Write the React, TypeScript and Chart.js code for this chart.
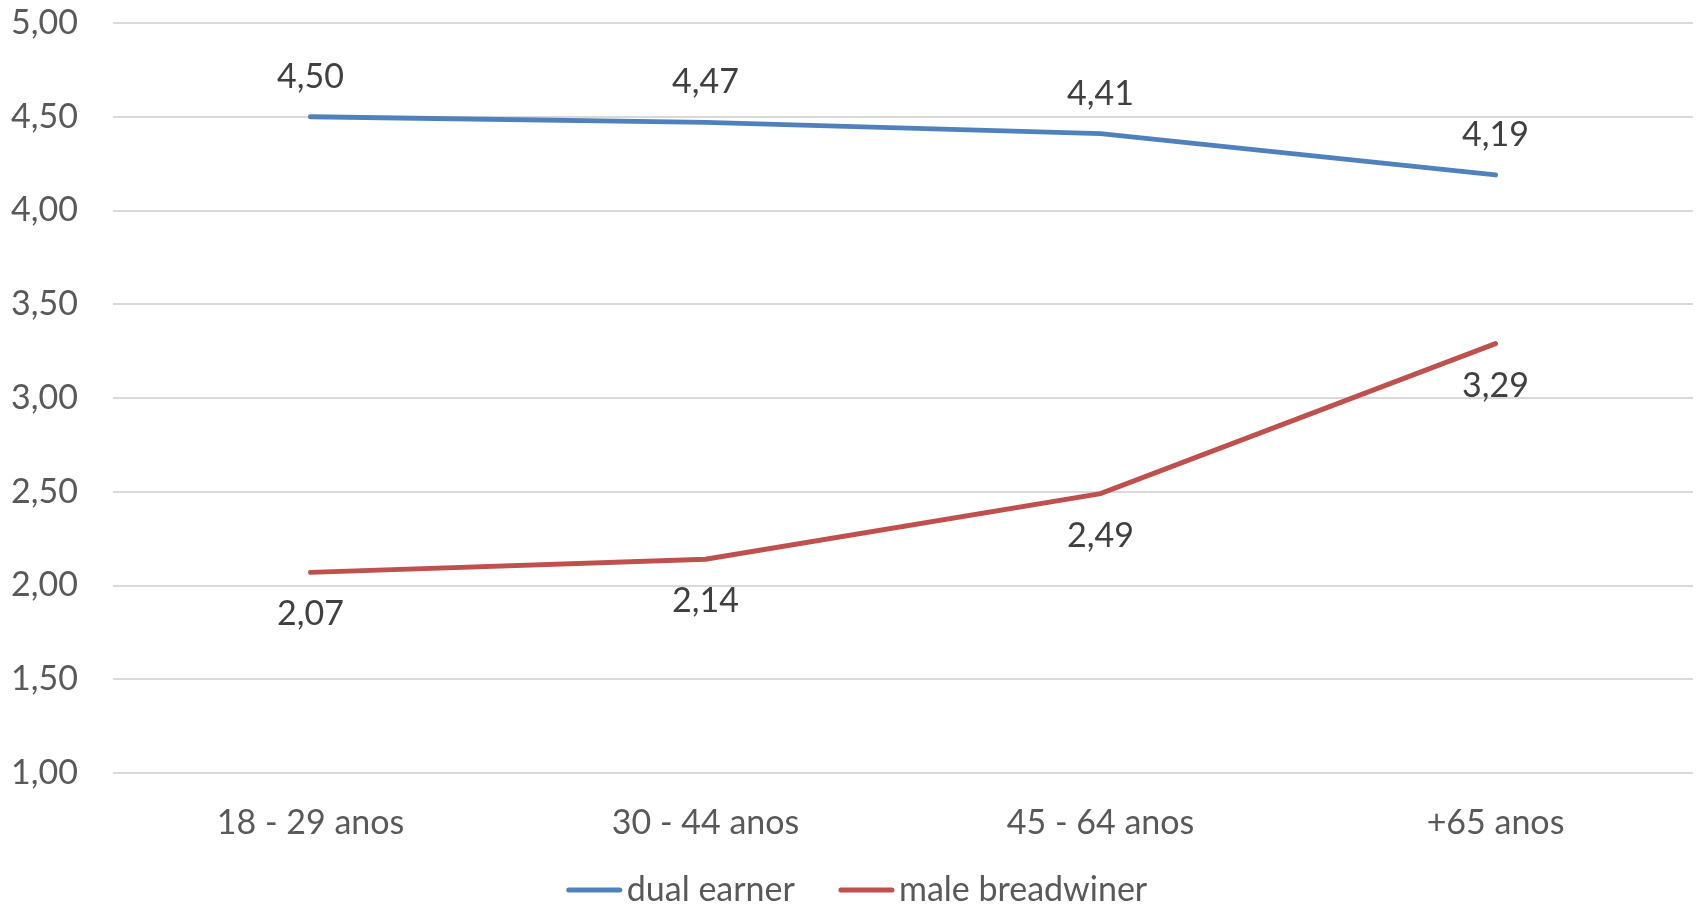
import React, { useEffect, useRef } from "react";
import { Chart, registerables } from "chart.js";

Chart.register(...registerables);

const categories = ["18 - 29 anos", "30 - 44 anos", "45 - 64 anos", "+65 anos"];
const dualEarner = [4.5, 4.47, 4.41, 4.19];
const maleBreadwinner = [2.07, 2.14, 2.49, 3.29];
const seriesNames = ["dual earner", "male breadwiner"];
const seriesColors = ["#4F81BD", "#C0504D"];

const FONT = "Lato, 'Noto Sans', sans-serif";
const FONT_SIZE = 34;

const fmt = (v: number) => v.toFixed(2).replace(".", ",");

// Value labels: first series above its points, second series below.
const valueLabels = {
  id: "valueLabels",
  afterDatasetsDraw(chart: any) {
    const ctx = chart.ctx;
    ctx.save();
    ctx.font = `${FONT_SIZE}px ${FONT}`;
    ctx.fillStyle = "#404040";
    ctx.textAlign = "center";
    ctx.textBaseline = "middle";
    chart.data.datasets.forEach((ds: any, di: number) => {
      const meta = chart.getDatasetMeta(di);
      meta.data.forEach((pt: any, i: number) => {
        const off = di === 0 ? -40 : 42;
        ctx.fillText(fmt(ds.data[i]), pt.x, pt.y + off);
      });
    });
    ctx.restore();
  },
};

// Legend row along the bottom: short line swatch followed by the series name.
const bottomLegend = {
  id: "bottomLegend",
  afterDraw(chart: any) {
    const ctx = chart.ctx;
    ctx.save();
    ctx.font = `${FONT_SIZE}px ${FONT}`;
    const swatch = 55;
    const gapText = 5;
    const gapItem = 44;
    const widths = chart.data.datasets.map((ds: any) => ctx.measureText(ds.label).width);
    let total = 0;
    widths.forEach((w: number, i: number) => {
      total += swatch + gapText + w + (i < widths.length - 1 ? gapItem : 0);
    });
    let x = (chart.width - total) / 2 + 8;
    const y = 890;
    chart.data.datasets.forEach((ds: any, i: number) => {
      ctx.strokeStyle = ds.borderColor;
      ctx.lineWidth = 5;
      ctx.lineCap = "round";
      ctx.beginPath();
      ctx.moveTo(x + 2, y);
      ctx.lineTo(x + swatch - 2, y);
      ctx.stroke();
      ctx.fillStyle = "#595959";
      ctx.textAlign = "left";
      ctx.textBaseline = "middle";
      ctx.fillText(ds.label, x + swatch + gapText, y);
      x += swatch + gapText + widths[i] + gapItem;
    });
    ctx.restore();
  },
};

export default function App() {
  const canvasRef = useRef<HTMLCanvasElement | null>(null);

  useEffect(() => {
    if (!canvasRef.current) return;
    const chart = new Chart(canvasRef.current, {
      type: "line",
      data: {
        labels: categories,
        datasets: [
          {
            label: seriesNames[0],
            data: dualEarner,
            borderColor: seriesColors[0],
            backgroundColor: seriesColors[0],
            borderWidth: 5,
            pointRadius: 0,
            tension: 0,
            borderCapStyle: "round",
          },
          {
            label: seriesNames[1],
            data: maleBreadwinner,
            borderColor: seriesColors[1],
            backgroundColor: seriesColors[1],
            borderWidth: 5,
            pointRadius: 0,
            tension: 0,
            borderCapStyle: "round",
          },
        ],
      },
      options: {
        responsive: false,
        animation: false,
        layout: { padding: { top: 23, right: 5, bottom: 40, left: 0 } },
        plugins: {
          legend: { display: false },
          tooltip: { enabled: false },
        },
        scales: {
          x: {
            offset: true,
            grid: { display: false, drawTicks: false },
            border: { display: false },
            ticks: {
              color: "#595959",
              font: { family: FONT, size: FONT_SIZE },
              padding: 30,
              maxRotation: 0,
            },
            afterFit(scale: any) {
              scale.height = 94;
              scale.paddingLeft = 0;
              scale.paddingRight = 0;
            },
          },
          y: {
            min: 1,
            max: 5,
            grid: { color: "#D9D9D9", lineWidth: 2, drawTicks: false },
            border: { display: false },
            ticks: {
              stepSize: 0.5,
              color: "#595959",
              font: { family: FONT, size: FONT_SIZE },
              padding: 35,
              callback: (v: any) => fmt(Number(v)),
            },
            afterFit(scale: any) {
              scale.width = 113;
              scale.paddingTop = 0;
              scale.paddingBottom = 0;
            },
          },
        },
      },
      plugins: [valueLabels, bottomLegend],
    });
    return () => chart.destroy();
  }, []);

  return (
    <div style={{ position: "fixed", left: 0, top: 0, width: 1698, height: 907, background: "#fff" }}>
      <canvas ref={canvasRef} width={1698} height={907} />
    </div>
  );
}
